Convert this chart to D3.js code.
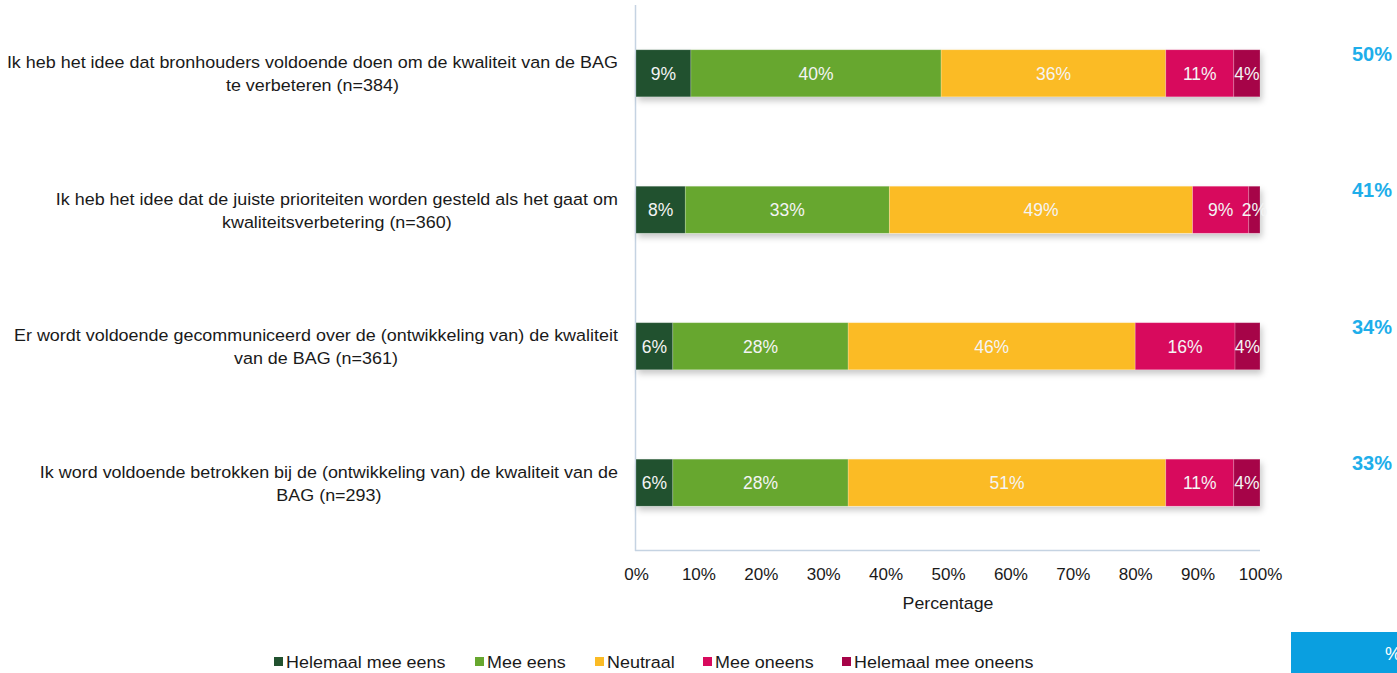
<!DOCTYPE html>
<html>
<head>
<meta charset="utf-8">
<script src="https://cdn.jsdelivr.net/npm/d3@7/dist/d3.min.js"></script>
<style>
  html, body { margin: 0; padding: 0; background: #fff; }
  svg { display: block; font-family: "Liberation Sans", Arial, sans-serif; }
</style>
</head>
<body>
<svg id="chart" width="1397" height="673"></svg>
<script>
// Survey statements (two lines each)
const statements = [
  ["Ik heb het idee dat bronhouders voldoende doen om de kwaliteit van de BAG", "te verbeteren (n=384)"],
  ["Ik heb het idee dat de juiste prioriteiten worden gesteld als het gaat om", "kwaliteitsverbetering (n=360)"],
  ["Er wordt voldoende gecommuniceerd over de (ontwikkeling van) de kwaliteit", "van de BAG (n=361)"],
  ["Ik word voldoende betrokken bij de (ontwikkeling van) de kwaliteit van de", "BAG (n=293)"]
];
const seriesNames = ["Helemaal mee eens", "Mee eens", "Neutraal", "Mee oneens", "Helemaal mee oneens"];
// Answer shares per statement (percent)
const helemaalMeeEens   = [8.8, 7.9, 5.9, 5.9];
const meeEens           = [40.1, 32.7, 28.1, 28.1];
const neutraal          = [36.0, 48.6, 46.0, 50.9];
const meeOneens         = [10.9, 9.0, 16.0, 10.9];
const helemaalMeeOneens = [4.2, 1.8, 4.0, 4.2];
// Overall score shown to the right of each bar
const scores = ["50%", "41%", "34%", "33%"];
const tickValues = [0, 10, 20, 30, 40, 50, 60, 70, 80, 90, 100];
const colors = ["#21512f", "#67a72f", "#fbbb25", "#d80a5d", "#a60448"];

const series = [helemaalMeeEens, meeEens, neutraal, meeOneens, helemaalMeeOneens];
const rows = statements.map((s, i) => {
  const r = { idx: i };
  seriesNames.forEach((n, k) => r[n] = series[k][i]);
  return r;
});

const svg = d3.select("#chart");
const x = d3.scaleLinear().domain([0, 100]).range([636, 1260]);
const y = d3.scaleBand().domain(d3.range(statements.length)).range([5, 551]).paddingInner(0.655).paddingOuter(0.328);

const stack = d3.stack().keys(seriesNames)(rows);

// drop shadow for the bars
const defs = svg.append("defs");
const f = defs.append("filter").attr("id", "shadow").attr("x", "-5%").attr("y", "-20%").attr("width", "110%").attr("height", "160%");
f.append("feDropShadow").attr("dx", 2).attr("dy", 4).attr("stdDeviation", 3).attr("flood-color", "#000").attr("flood-opacity", 0.22);

// axes lines
svg.append("line").attr("x1", 635.5).attr("x2", 635.5).attr("y1", 5).attr("y2", 551)
  .attr("stroke", "#c5d3e2").attr("stroke-width", 1.5);
svg.append("line").attr("x1", 635).attr("x2", 1260).attr("y1", 550.5).attr("y2", 550.5)
  .attr("stroke", "#c5d3e2").attr("stroke-width", 1.5);

// bars
const barG = svg.append("g");
rows.forEach((r, i) => {
  barG.append("rect").attr("x", x(0)).attr("y", y(i)).attr("width", x(100) - x(0)).attr("height", y.bandwidth())
    .attr("fill", "#fff").attr("filter", "url(#shadow)");
});
stack.forEach((layer, k) => {
  const key = layer.key;
  const g = barG.append("g");
  g.selectAll("rect").data(layer).join("rect")
    .attr("x", d => x(d[0]))
    .attr("y", (d, i) => y(i))
    .attr("width", d => x(d[1]) - x(d[0]))
    .attr("height", y.bandwidth())
    .attr("fill", colors[k])
    .attr("stroke", "rgba(255,255,255,0.25)")
    .attr("stroke-width", 0.8);
  g.selectAll("text").data(layer).join("text")
    .attr("x", d => (x(d[0]) + x(d[1])) / 2)
    .attr("y", (d, i) => y(i) + y.bandwidth() / 2 + 6.5)
    .attr("text-anchor", "middle")
    .attr("fill", "#f4f4f4")
    .attr("font-size", 17.5)
    .text(d => Math.round(d.data[key]) + "%");
});

// category labels: lines centered on each other, block right-aligned
const sx = 1.055;
statements.forEach((lines, i) => {
  const cy = y(i) + y.bandwidth() / 2;
  const g = svg.append("g").attr("font-size", 17).attr("fill", "#1a1a1a");
  const t = g.append("text").attr("text-anchor", "middle");
  const l1 = t.append("tspan").attr("x", 0).attr("y", -5).text(lines[0]);
  t.append("tspan").attr("x", 0).attr("y", 18).text(lines[1]);
  const w = l1.node().getComputedTextLength() * sx;
  g.attr("transform", `translate(${618 - w / 2},${cy}) scale(${sx},1)`);
});

// x axis ticks
const xAxis = d3.axisBottom(x).tickValues(tickValues).tickFormat(d => d + "%").tickSize(0).tickPadding(0);
const ax = svg.append("g").attr("transform", "translate(0,568)").call(xAxis);
ax.select(".domain").remove();
ax.selectAll("text").attr("font-size", 17).attr("fill", "#1a1a1a").attr("font-family", "Liberation Sans, Arial, sans-serif").attr("dy", "0.71em");

svg.append("text").attr("transform", `translate(${(x(0) + x(100)) / 2},609) scale(1.045,1)`).attr("text-anchor", "middle")
  .attr("font-size", 17).attr("fill", "#1a1a1a").text("Percentage");

// scores
svg.append("g").selectAll("text").data(scores).join("text")
  .attr("x", 1372).attr("y", (d, i) => y(i) + 11)
  .attr("text-anchor", "middle").attr("font-size", 20).attr("font-weight", "bold")
  .attr("fill", "#1eaeea").text(d => d);

// blue tag bottom right
svg.append("rect").attr("x", 1291).attr("y", 632).attr("width", 106).attr("height", 41).attr("fill", "#0a9fe0");
svg.append("text").attr("x", 1385).attr("y", 660).attr("fill", "#fff").attr("font-size", 18).text("%");

// legend
const legendX = [274, 475, 595, 703, 842];
const lg = svg.append("g");
seriesNames.forEach((n, k) => {
  lg.append("rect").attr("x", legendX[k]).attr("y", 657).attr("width", 9).attr("height", 9).attr("fill", colors[k]);
  lg.append("text").attr("transform", `translate(${legendX[k] + 12},668) scale(${sx},1)`)
    .attr("font-size", 17).attr("fill", "#1a1a1a").text(n);
});
</script>
</body>
</html>
